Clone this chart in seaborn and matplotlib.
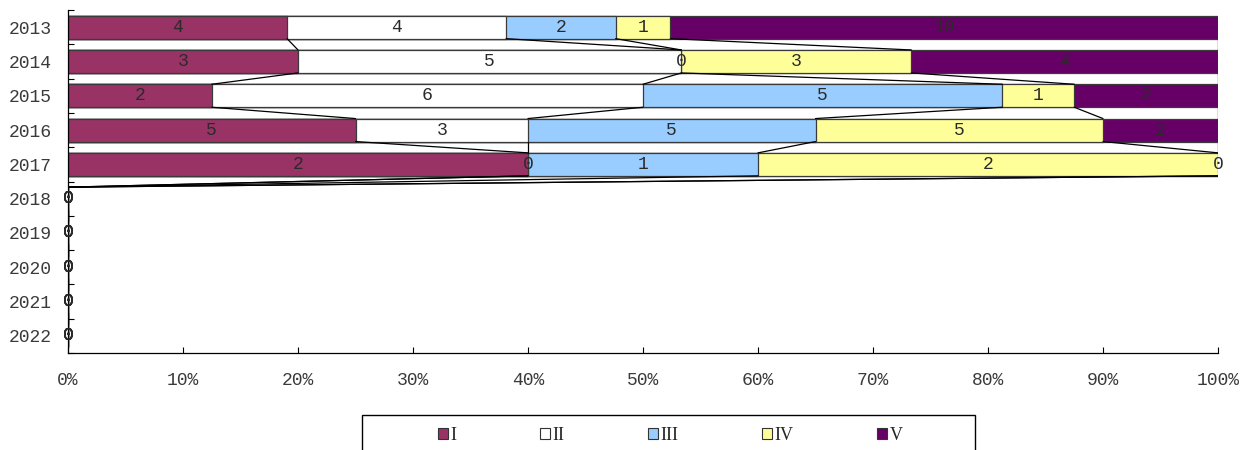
import numpy as np
import pandas as pd
import matplotlib
matplotlib.use('Agg')
import matplotlib.pyplot as plt
import seaborn as sns
from matplotlib.ticker import PercentFormatter, FixedLocator
from matplotlib.patches import Patch, Rectangle

# data: counts per year and class
years = ['2013', '2014', '2015', '2016', '2017', '2018', '2019', '2020', '2021', '2022']
classes = ['I', 'II', 'III', 'IV', 'V']
cnt_I = [4, 3, 2, 5, 2, 0, 0, 0, 0, 0]
cnt_II = [4, 5, 6, 3, 0, 0, 0, 0, 0, 0]
cnt_III = [2, 0, 5, 5, 1, 0, 0, 0, 0, 0]
cnt_IV = [1, 3, 1, 5, 2, 0, 0, 0, 0, 0]
cnt_V = [10, 4, 2, 2, 0, 0, 0, 0, 0, 0]
colors = ['#993366', '#FFFFFF', '#99CCFF', '#FFFF99', '#660066']

df = pd.DataFrame({'I': cnt_I, 'II': cnt_II, 'III': cnt_III, 'IV': cnt_IV, 'V': cnt_V}, index=years)
tot = df.sum(axis=1).replace(0, np.nan)
share = df.div(tot, axis=0).fillna(0)
cum = share.cumsum(axis=1)

sns.set_theme(style='white')
plt.rcParams['font.family'] = ['Liberation Mono', 'DejaVu Sans']

fig = plt.figure(figsize=(12.54, 4.5), dpi=100)
ax = fig.add_axes([68 / 1254, 1 - 353 / 450, 1150 / 1254, 343 / 450])

bw = 0.67
# stacked look: draw cumulative bars from widest to narrowest
for c, col in zip(classes[::-1], colors[::-1]):
    d = pd.DataFrame({'year': years, 'pct': cum[c].values})
    sns.barplot(data=d, x='pct', y='year', orient='h', color=col, width=bw,
                edgecolor='#3a3a3a', linewidth=0.9, saturation=1, ax=ax, zorder=2)

# series lines between bars
for c in classes:
    v = cum[c].values
    for i in range(len(years) - 1):
        ax.plot([v[i], v[i + 1]], [i + bw / 2, i + 1 - bw / 2], color='black', lw=0.9, zorder=3)

# value labels
for i, y in enumerate(years):
    left = 0
    for c in classes:
        w = share.loc[y, c]
        ax.text(left + w / 2, i, str(df.loc[y, c]), ha='center', va='center',
                fontsize=13, color='#2a2a2a', zorder=4)
        left += w

ax.set_xlim(0, 1)
ax.set_ylim(len(years) - 0.5, -0.5)
ax.xaxis.set_major_locator(FixedLocator(np.linspace(0, 1, 11)))
ax.xaxis.set_major_formatter(PercentFormatter(1.0, decimals=0))
ax.yaxis.set_minor_locator(FixedLocator(np.arange(-0.5, len(years), 1)))
ax.tick_params(axis='y', which='major', length=0, labelsize=13, pad=12, labelcolor='#3a3a3a')
ax.tick_params(axis='y', which='minor', direction='in', length=4, width=0.8, color='black', left=True)
ax.tick_params(axis='x', which='major', direction='in', length=4, width=0.8, color='black',
               bottom=True, labelsize=13, pad=14, labelcolor='#3a3a3a')
ax.set_xlabel('')
ax.set_ylabel('')
for s in ['top', 'right']:
    ax.spines[s].set_visible(False)
for s in ['left', 'bottom']:
    ax.spines[s].set_color('black')
    ax.spines[s].set_linewidth(0.9)

# legend box runs off the bottom edge, like the reference
fig.patches.append(Rectangle((362 / 1254, -0.1), (975 - 362) / 1254, 1 - 415 / 450 + 0.1,
                             transform=fig.transFigure, facecolor='none', edgecolor='black',
                             linewidth=1.0))
handles = [Patch(facecolor=col, edgecolor='#333333', linewidth=0.8) for col in colors]
fig.legend(handles, classes, loc='center left', bbox_to_anchor=(438 / 1254, 1 - 435 / 450),
           ncol=5, frameon=False, prop={'family': 'Liberation Serif', 'size': 13},
           handlelength=0.55, handleheight=0.55, handletextpad=0.15,
           columnspacing=4.62, borderpad=0, borderaxespad=0)

fig.savefig('out.png', dpi=100)
